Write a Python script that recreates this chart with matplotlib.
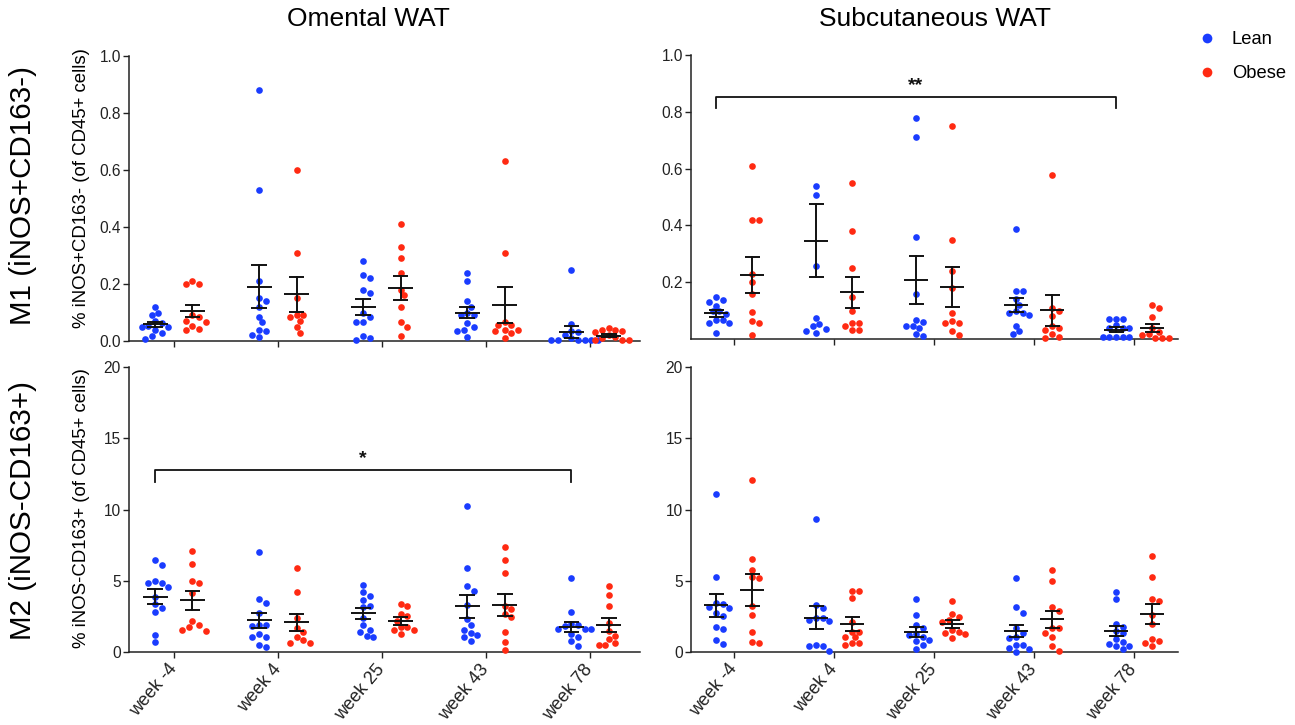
import numpy as np
import matplotlib
matplotlib.use("Agg")
import matplotlib.pyplot as plt
from matplotlib.lines import Line2D

plt.rcParams['font.family'] = ['Liberation Sans', 'DejaVu Sans']

weeks = ["week -4", "week 4", "week 25", "week 43", "week 78"]
col_titles = ["Omental WAT", "Subcutaneous WAT"]
row_titles = ["M1 (iNOS+CD163-)", "M2 (iNOS-CD163+)"]
y_labels = ["% iNOS+CD163- (of CD45+ cells)", "% iNOS-CD163+ (of CD45+ cells)"]
groups = ["Lean", "Obese"]
LEAN_C = "#1a3cff"
OBESE_C = "#ff2a12"

# ---- Omental, M1 ----
om_m1_lean = [
    [0.12, 0.10, 0.09, 0.07, 0.062, 0.054, 0.05, 0.048, 0.039, 0.027, 0.016, 0.008],
    [0.88, 0.53, 0.21, 0.15, 0.14, 0.12, 0.085, 0.065, 0.04, 0.035, 0.022, 0.015],
    [0.28, 0.23, 0.22, 0.18, 0.17, 0.097, 0.083, 0.067, 0.067, 0.018, 0.012, 0.005],
    [0.24, 0.21, 0.14, 0.12, 0.10, 0.09, 0.09, 0.062, 0.05, 0.039, 0.036, 0.013],
    [0.25, 0.06, 0.035, 0.03, 0.02, 0.01, 0.005, 0.005, 0.003, 0.003, 0.003, 0.002],
]
om_m1_obese = [
    [0.21, 0.20, 0.20, 0.09, 0.085, 0.071, 0.067, 0.054, 0.043, 0.04],
    [0.60, 0.31, 0.15, 0.09, 0.09, 0.085, 0.07, 0.048, 0.028],
    [0.41, 0.33, 0.29, 0.24, 0.18, 0.16, 0.12, 0.065, 0.05, 0.018],
    [0.63, 0.31, 0.065, 0.055, 0.055, 0.04, 0.04, 0.035, 0.028, 0.012],
    [0.045, 0.04, 0.04, 0.035, 0.03, 0.02, 0.015, 0.01, 0.005, 0.005, 0.003],
]
om_m1_lean_mean = [0.058, 0.190, 0.119, 0.099, 0.033]
om_m1_lean_sem = [0.010, 0.075, 0.027, 0.020, 0.021]
om_m1_obese_mean = [0.105, 0.164, 0.185, 0.126, 0.019]
om_m1_obese_sem = [0.021, 0.061, 0.042, 0.062, 0.006]

# ---- Subcutaneous, M1 ----
sc_m1_lean = [
    [0.148, 0.138, 0.129, 0.117, 0.097, 0.097, 0.087, 0.067, 0.067, 0.055, 0.055, 0.021],
    [0.539, 0.508, 0.258, 0.075, 0.052, 0.046, 0.035, 0.029, 0.022],
    [0.779, 0.71, 0.359, 0.158, 0.067, 0.06, 0.046, 0.046, 0.038, 0.018, 0.011],
    [0.388, 0.168, 0.168, 0.14, 0.12, 0.10, 0.093, 0.093, 0.086, 0.047, 0.027, 0.018],
    [0.072, 0.072, 0.072, 0.048, 0.038, 0.038, 0.038, 0.008, 0.008, 0.008, 0.008, 0.008],
]
sc_m1_obese = [
    [0.61, 0.42, 0.42, 0.23, 0.20, 0.16, 0.095, 0.065, 0.055, 0.015],
    [0.549, 0.379, 0.249, 0.148, 0.099, 0.058, 0.058, 0.047, 0.033, 0.033],
    [0.75, 0.349, 0.239, 0.178, 0.093, 0.065, 0.058, 0.058, 0.027, 0.015],
    [0.579, 0.109, 0.099, 0.082, 0.047, 0.039, 0.033, 0.019, 0.006, 0.002],
    [0.12, 0.11, 0.076, 0.039, 0.025, 0.018, 0.015, 0.003, 0.003, 0.003],
]
sc_m1_lean_mean = [0.090, 0.346, 0.208, 0.120, 0.033]
sc_m1_lean_sem = [0.012, 0.129, 0.085, 0.026, 0.008]
sc_m1_obese_mean = [0.225, 0.165, 0.183, 0.101, 0.039]
sc_m1_obese_sem = [0.062, 0.055, 0.072, 0.054, 0.015]

# ---- Omental, M2 ----
om_m2_lean = [
    [6.45, 6.1, 5.0, 4.86, 4.84, 4.56, 3.83, 3.36, 3.1, 2.8, 1.21, 0.68],
    [7.0, 3.74, 3.46, 2.71, 1.92, 1.87, 1.82, 1.24, 1.07, 1.07, 0.49, 0.37],
    [4.7, 4.23, 3.93, 3.64, 3.25, 3.13, 2.41, 1.89, 1.54, 1.43, 1.14, 1.05],
    [10.26, 5.91, 4.65, 4.3, 3.29, 2.34, 1.89, 1.54, 1.31, 1.21, 1.05, 0.79],
    [5.21, 2.8, 1.96, 1.89, 1.82, 1.64, 1.6, 1.59, 1.26, 1.07, 0.75, 0.4],
]
om_m2_obese = [
    [7.06, 6.15, 4.95, 4.84, 4.11, 2.17, 1.87, 1.73, 1.54, 1.5],
    [5.86, 4.21, 2.41, 1.68, 1.4, 1.03, 0.84, 0.65, 0.65],
    [3.36, 3.22, 2.64, 2.55, 2.2, 1.78, 1.75, 1.54, 1.54, 1.24],
    [7.38, 6.45, 5.51, 3.22, 2.99, 2.64, 2.43, 1.38, 0.7, 0.14],
    [4.63, 4.02, 3.2, 2.01, 1.5, 1.12, 0.93, 0.61, 0.51, 0.47],
]
om_m2_lean_mean = [3.88, 2.24, 2.71, 3.20, 1.78]
om_m2_lean_sem = [0.53, 0.53, 0.40, 0.79, 0.35]
om_m2_obese_mean = [3.62, 2.08, 2.20, 3.29, 1.92]
om_m2_obese_sem = [0.69, 0.62, 0.28, 0.77, 0.50]

# ---- Subcutaneous, M2 ----
sc_m2_lean = [
    [11.07, 5.23, 3.41, 3.34, 3.18, 3.08, 2.71, 2.55, 1.78, 1.59, 0.82, 0.56],
    [9.32, 3.29, 3.1, 2.41, 2.41, 2.22, 2.17, 0.49, 0.44, 0.44, 0.09],
    [3.69, 2.59, 1.89, 1.66, 1.26, 1.2, 1.07, 0.82, 0.77, 0.49, 0.19],
    [5.21, 3.13, 2.76, 1.66, 1.36, 1.02, 1.0, 0.49, 0.49, 0.3, 0.21, 0.02],
    [4.21, 3.69, 1.96, 1.78, 1.47, 1.31, 0.91, 0.68, 0.56, 0.44, 0.44, 0.21],
]
sc_m2_obese = [
    [12.06, 6.5, 5.75, 5.23, 5.16, 3.22, 2.62, 1.4, 0.7, 0.65],
    [4.28, 4.28, 3.76, 2.1, 1.43, 1.43, 1.07, 1.03, 0.61, 0.61, 0.51],
    [3.6, 2.64, 2.48, 2.24, 2.13, 1.54, 1.43, 1.31, 1.24, 0.98],
    [5.75, 4.98, 3.13, 2.87, 1.66, 1.66, 1.31, 1.03, 0.42, 0.07],
    [6.75, 5.28, 3.71, 3.57, 2.6, 1.96, 0.91, 0.77, 0.65, 0.42],
]
sc_m2_lean_mean = [3.27, 2.41, 1.40, 1.47, 1.47]
sc_m2_lean_sem = [0.80, 0.79, 0.35, 0.43, 0.38]
sc_m2_obese_mean = [4.35, 1.96, 1.96, 2.29, 2.66]
sc_m2_obese_sem = [1.10, 0.50, 0.30, 0.60, 0.70]

# significance brackets: (panel row, panel col, from week idx, to week idx, bracket height, drop, label)
sig_brackets = [
    (0, 1, 0, 4, 0.852, 0.04, "**"),
    (1, 0, 0, 4, 12.75, 0.85, "*"),
]

W, H = 1295, 725
DPI = 100
fig = plt.figure(figsize=(W / DPI, H / DPI), dpi=DPI)

def frac_rect(x0, x1, ytop, ybot):
    return [x0 / W, 1 - ybot / H, (x1 - x0) / W, (ybot - ytop) / H]

ax_rects = [
    [frac_rect(129, 640, 56, 341), frac_rect(691, 1178, 55, 339)],
    [frac_rect(129, 640, 367, 652), frac_rect(691, 1178, 367, 652)],
]
xlims = [(-0.43, 4.48), (-0.43, 4.44)]
ylims = [(0, 1.0), (0, 20)]
yticks = [[[0, 0.2, 0.4, 0.6, 0.8, 1.0], [0.2, 0.4, 0.6, 0.8, 1.0]],
          [[0, 5, 10, 15, 20], [0, 5, 10, 15, 20]]]
yfmt = ["{:.1f}", "{:g}"]

panel_data = [
    [(om_m1_lean, om_m1_obese, om_m1_lean_mean, om_m1_lean_sem, om_m1_obese_mean, om_m1_obese_sem),
     (sc_m1_lean, sc_m1_obese, sc_m1_lean_mean, sc_m1_lean_sem, sc_m1_obese_mean, sc_m1_obese_sem)],
    [(om_m2_lean, om_m2_obese, om_m2_lean_mean, om_m2_lean_sem, om_m2_obese_mean, om_m2_obese_sem),
     (sc_m2_lean, sc_m2_obese, sc_m2_lean_mean, sc_m2_lean_sem, sc_m2_obese_mean, sc_m2_obese_sem)],
]

OFF = 0.18
DOT_D = 6.7  # px, collision diameter
MS = 4.8     # marker size in points
SPINE_C = "#222222"


def swarm_offsets(vals, px_per_x, px_per_y, d=DOT_D):
    vals = np.asarray(vals, dtype=float)
    order = np.argsort(-vals)
    ypx = vals * px_per_y
    placed = []
    offs = np.zeros(len(vals))
    step = d / 2.0
    cands = [0]
    for j in range(1, 40):
        cands += [j, -j]
    for i in order:
        for c in cands:
            xo = c * step
            ok = True
            for (px, py) in placed:
                if (px - xo) ** 2 + (py - ypx[i]) ** 2 < (d * 0.98) ** 2:
                    ok = False
                    break
            if ok:
                placed.append((xo, ypx[i]))
                offs[i] = xo / px_per_x
                break
    return offs


axes = [[None, None], [None, None]]
for r in range(2):
    for c in range(2):
        ax = fig.add_axes(ax_rects[r][c])
        axes[r][c] = ax
        ax.set_xlim(*xlims[c])
        ax.set_ylim(*ylims[r])
        for s in ["top", "right"]:
            ax.spines[s].set_visible(False)
        for s in ["left", "bottom"]:
            ax.spines[s].set_color(SPINE_C)
            ax.spines[s].set_linewidth(1.1)
        ax.tick_params(axis="both", direction="out", length=4.3, width=1.0,
                       color=SPINE_C, labelsize=11.2, pad=1.5, labelcolor="#222222")
        ax.set_yticks(yticks[r][c])
        ax.set_yticklabels([yfmt[r].format(v) for v in yticks[r][c]])
        ax.set_xticks(range(len(weeks)))
        if r == 1:
            ax.set_xticklabels(weeks, rotation=50, ha="right", va="center",
                               rotation_mode="anchor", fontsize=13)
            ax.tick_params(axis="x", pad=6)
        else:
            ax.set_xticklabels([])

        bbox = ax.get_position()
        wpx = bbox.width * W
        hpx = bbox.height * H
        px_per_x = wpx / (xlims[c][1] - xlims[c][0])
        px_per_y = hpx / (ylims[r][1] - ylims[r][0])

        lean, obese, lmean, lsem, omean, osem = panel_data[r][c]
        for grp, col, sign, means, sems in [
                (lean, LEAN_C, -1, lmean, lsem), (obese, OBESE_C, 1, omean, osem)]:
            for wi, vals in enumerate(grp):
                center = wi + sign * OFF
                offs = swarm_offsets(vals, px_per_x, px_per_y)
                ax.plot(center + offs, vals, "o", ms=MS, color=col, mec="none",
                        clip_on=False, zorder=3)
                m, s = means[wi], sems[wi]
                ax.plot([center - 0.12, center + 0.12], [m, m], color="#111111",
                        lw=1.4, zorder=4, solid_capstyle="butt")
                ax.plot([center, center], [m - s, m + s], color="#111111",
                        lw=1.4, zorder=4)
                for yy in (m - s, m + s):
                    ax.plot([center - 0.075, center + 0.075], [yy, yy],
                            color="#111111", lw=1.4, zorder=4, solid_capstyle="butt")

# significance brackets
for (r, c, i0, i1, yb, drop, lab) in sig_brackets:
    ax = axes[r][c]
    x0 = i0 - OFF
    x1 = i1 - OFF
    ax.plot([x0, x0, x1, x1], [yb - drop, yb, yb, yb - drop], color="#111111",
            lw=1.3, zorder=5, clip_on=False)
    ax.text((x0 + x1) / 2, yb + drop * 0.25, lab, ha="center", va="bottom",
            fontsize=14, fontweight="bold", color="#111111")

# column titles
fig.text(368 / W, 1 - 19 / H, col_titles[0], ha="center", va="center", fontsize=19)
fig.text(935 / W, 1 - 19 / H, col_titles[1], ha="center", va="center", fontsize=19)

# row titles
fig.text(23 / W, 1 - 196 / H, row_titles[0], ha="center", va="center",
         rotation=90, fontsize=21.3)
fig.text(23 / W, 1 - 511 / H, row_titles[1], ha="center", va="center",
         rotation=90, fontsize=21.3)

# y labels
fig.text(82 / W, 1 - 188 / H, y_labels[0], ha="center", va="center",
         rotation=90, fontsize=13.4)
fig.text(82 / W, 1 - 508 / H, y_labels[1], ha="center", va="center",
         rotation=90, fontsize=13.4)

# legend
handles = [Line2D([], [], marker="o", ls="", color=LEAN_C, mec="none", ms=7),
           Line2D([], [], marker="o", ls="", color=OBESE_C, mec="none", ms=7)]
fig.legend(handles, groups, loc="upper left", bbox_to_anchor=(1196 / W, 1 - 31 / H),
           frameon=False, fontsize=13.2, handletextpad=0.75, labelspacing=0.95,
           borderaxespad=0, borderpad=0, handlelength=1.2)

fig.savefig("out.png", dpi=DPI)
